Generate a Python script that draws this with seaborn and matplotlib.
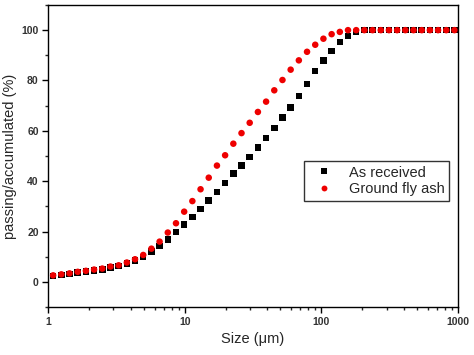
import matplotlib
matplotlib.use("Agg")
import matplotlib.pyplot as plt
import seaborn as sns
import pandas as pd
from matplotlib.ticker import LogLocator, MultipleLocator, FixedLocator, FixedFormatter

sizes = [1.084, 1.245, 1.429, 1.641, 1.884, 2.163, 2.483, 2.851, 3.273, 3.758,
         4.315, 4.955, 5.689, 6.531, 7.499, 8.610, 9.886, 11.35, 13.03, 14.96,
         17.18, 19.72, 22.65, 26.00, 29.85, 34.28, 39.36, 45.19, 51.88, 59.57,
         68.39, 78.52, 90.16, 103.5, 118.9, 136.5, 156.7, 179.9, 206.5, 237.1,
         272.3, 312.6, 358.9, 412.1, 473.2, 543.3, 623.7, 716.1, 822.2, 944.1]

as_received = [2.4, 2.8, 3.2, 3.7, 4.1, 4.5, 5.0, 5.8, 6.3, 7.3,
               8.6, 9.9, 12.0, 14.3, 16.9, 19.8, 22.8, 25.7, 29.0, 32.3,
               35.7, 39.2, 43.0, 46.3, 49.6, 53.4, 57.1, 61.1, 65.2, 69.3,
               73.9, 78.6, 83.7, 88.0, 91.7, 95.2, 97.6, 99.3, 100, 100,
               100, 100, 100, 100, 100, 100, 100, 100, 100, 100]

ground_fly_ash = [2.6, 3.0, 3.4, 4.0, 4.4, 4.9, 5.3, 6.1, 6.6, 7.7,
                  9.0, 10.7, 13.2, 16.0, 19.6, 23.3, 27.9, 32.1, 36.8, 41.4,
                  46.2, 50.3, 54.9, 59.1, 63.2, 67.5, 71.6, 76.1, 80.2, 84.3,
                  88.0, 91.4, 94.2, 96.6, 98.4, 99.3, 100, 100, 100, 100,
                  100, 100, 100, 100, 100, 100, 100, 100, 100, 100]

series_names = ["As received", "Ground fly ash"]
x_ticks = [1, 10, 100, 1000]
x_tick_labels = ["1", "10", "100", "1000"]
y_ticks = [0, 20, 40, 60, 80, 100]

df = pd.DataFrame({
    "size": sizes * 2,
    "value": as_received + ground_fly_ash,
    "series": [series_names[0]] * len(sizes) + [series_names[1]] * len(sizes),
})

sns.set_style("ticks")
plt.rcParams["font.family"] = ["Liberation Sans", "DejaVu Sans"]

fig = plt.figure(figsize=(4.74, 3.55), dpi=100)
ax = fig.add_axes([0.102, 0.135, 0.864, 0.851])

sns.scatterplot(data=df, x="size", y="value", hue="series", style="series",
                markers={"As received": "s", "Ground fly ash": "o"},
                palette={"As received": "black", "Ground fly ash": "#ee0000"},
                s=22, linewidth=0, ax=ax, legend=True)
ax.set_xscale("log")
ax.set_xlim(1, 1000)
ax.set_ylim(-10, 110)

ax.xaxis.set_major_locator(FixedLocator(x_ticks))
ax.xaxis.set_major_formatter(FixedFormatter(x_tick_labels))
ax.xaxis.set_minor_locator(LogLocator(base=10, subs=range(2, 10)))
ax.yaxis.set_major_locator(FixedLocator(y_ticks))
ax.yaxis.set_minor_locator(MultipleLocator(10))

for sp in ax.spines.values():
    sp.set_color("black")
    sp.set_linewidth(1.0)
    sp.set_visible(True)

ax.tick_params(axis="both", which="major", direction="out", length=4, width=1,
               labelsize=7.5, colors="black", pad=3)
ax.tick_params(axis="both", which="minor", direction="out", length=2.5, width=1)
for lab in ax.get_xticklabels() + ax.get_yticklabels():
    lab.set_fontweight("bold")
    lab.set_color("#333333")

ax.set_xlabel("Size (μm)", fontsize=10.5, labelpad=4)
ax.set_ylabel("passing/accumulated (%)", fontsize=10.5, labelpad=3)

leg = ax.legend(loc="upper left", bbox_to_anchor=(0.624, 0.483), fontsize=10.5,
                frameon=True, fancybox=False, edgecolor="black", markerscale=0.9,
                handletextpad=0.6, borderpad=0.3, labelspacing=0.2,
                handlelength=2.2, borderaxespad=0)
leg.get_frame().set_linewidth(1.0)

fig.savefig("out.png", dpi=100)
